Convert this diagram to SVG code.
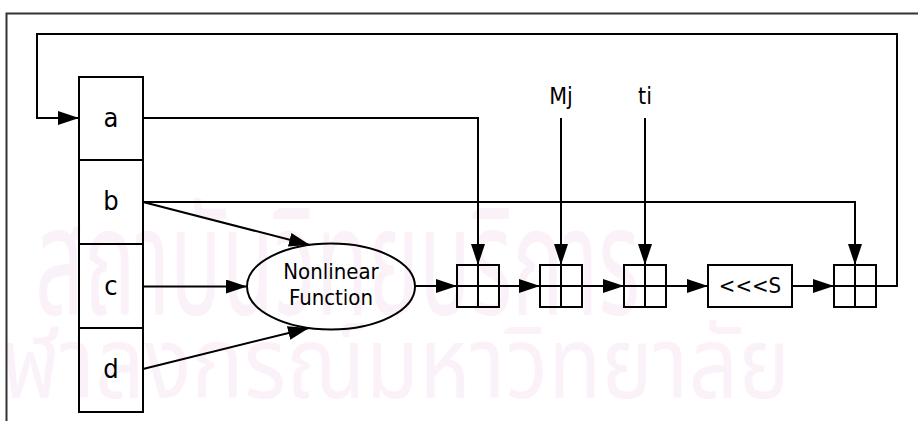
<svg xmlns="http://www.w3.org/2000/svg" width="918" height="421" viewBox="0 0 918 421">
  <style>
    .ln { fill: none; stroke: #000; stroke-width: 2; }
    .box { fill: none; stroke: #000; stroke-width: 2; }
    .lbl { font-family: "DejaVu Sans Condensed", "DejaVu Sans", sans-serif; fill: #000; text-anchor: middle; }
    .wm { font-family: "Noto Sans Thai", "Noto Sans", sans-serif; fill: #faf2f8; }
  </style>
  <defs>
    <marker id="arr" markerUnits="userSpaceOnUse" markerWidth="22" markerHeight="14" refX="21" refY="7" orient="auto">
      <path d="M0,0 L21,7 L0,14 z" fill="#000"/>
    </marker>
  </defs>
  <rect width="918" height="421" fill="#fff"/>

  <!-- background watermark lettering -->
  <g id="watermark">
    <text class="wm" x="35" y="315" font-size="150" textLength="605" lengthAdjust="spacingAndGlyphs">สถาบันวิทยบริการ</text>
    <text class="wm" x="-45" y="398" font-size="100" textLength="835" lengthAdjust="spacingAndGlyphs">จุฬาลงกรณ์มหาวิทยาลัย</text>
  </g>

  <!-- page frame -->
  <path d="M6.5,421 V13.5 H918" fill="none" stroke="#333" stroke-width="2"/>

  <!-- register words a..d -->
  <g id="reg-a"><rect class="box" x="79" y="77" width="64" height="83"/><text class="lbl" x="111" y="127" font-size="27">a</text></g>
  <g id="reg-b"><rect class="box" x="79" y="160" width="64" height="84"/><text class="lbl" x="111" y="210" font-size="27">b</text></g>
  <g id="reg-c"><rect class="box" x="79" y="244" width="64" height="84"/><text class="lbl" x="111" y="295" font-size="27">c</text></g>
  <g id="reg-d"><rect class="box" x="79" y="328" width="64" height="84"/><text class="lbl" x="111" y="378" font-size="27">d</text></g>

  <!-- nonlinear function -->
  <g id="nonlinear">
    <ellipse class="box" cx="331" cy="286.5" rx="84" ry="43"/>
    <text class="lbl" x="331" y="279" font-size="22">Nonlinear</text>
    <text class="lbl" x="331" y="305" font-size="22">Function</text>
  </g>

  <!-- modular adders -->
  <g id="add1"><rect class="box" x="457" y="265" width="42" height="42"/><path class="ln" d="M478,265 V307 M457,286 H499"/></g>
  <g id="add2"><rect class="box" x="540" y="265" width="42" height="42"/><path class="ln" d="M561,265 V307 M540,286 H582"/></g>
  <g id="add3"><rect class="box" x="624" y="265" width="42" height="42"/><path class="ln" d="M645,265 V307 M624,286 H666"/></g>
  <g id="add4"><rect class="box" x="834" y="265" width="42" height="42"/><path class="ln" d="M855,265 V307 M834,286 H876"/></g>

  <!-- left rotation -->
  <g id="rotate">
    <rect class="box" x="708" y="265" width="84" height="42"/>
    <text class="lbl" x="750" y="293" font-size="22">&lt;&lt;&lt;S</text>
  </g>

  <!-- inputs -->
  <g id="in-mj"><text class="lbl" x="561" y="104" font-size="23">Mj</text></g>
  <g id="in-ti"><text class="lbl" x="645" y="104" font-size="23">ti</text></g>

  <!-- connectors -->
  <g id="connectors">
    <polyline class="ln" points="876,286 897,286 897,34 37,34 37,118 79,118" marker-end="url(#arr)"/>
    <polyline class="ln" points="143,118 478,118 478,265" marker-end="url(#arr)"/>
    <line class="ln" x1="561" y1="118" x2="561" y2="265" marker-end="url(#arr)"/>
    <line class="ln" x1="645" y1="118" x2="645" y2="265" marker-end="url(#arr)"/>
    <polyline class="ln" points="143,202 855,202 855,265" marker-end="url(#arr)"/>
    <line class="ln" x1="143" y1="202" x2="310" y2="245" marker-end="url(#arr)"/>
    <line class="ln" x1="143" y1="286.5" x2="247" y2="286.5" marker-end="url(#arr)"/>
    <line class="ln" x1="143" y1="369" x2="309" y2="328" marker-end="url(#arr)"/>
    <line class="ln" x1="415" y1="286" x2="457" y2="286" marker-end="url(#arr)"/>
    <line class="ln" x1="499" y1="286" x2="540" y2="286" marker-end="url(#arr)"/>
    <line class="ln" x1="582" y1="286" x2="624" y2="286" marker-end="url(#arr)"/>
    <line class="ln" x1="666" y1="286" x2="708" y2="286" marker-end="url(#arr)"/>
    <line class="ln" x1="792" y1="286" x2="834" y2="286" marker-end="url(#arr)"/>
  </g>
</svg>
